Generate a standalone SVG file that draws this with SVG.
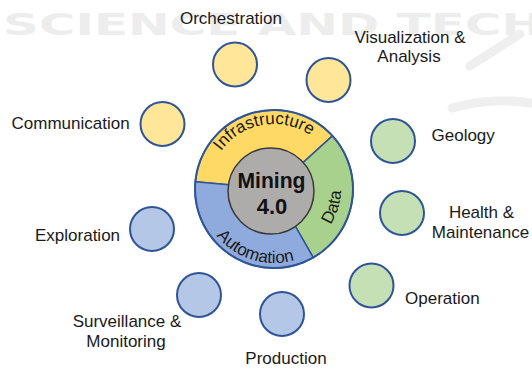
<svg xmlns="http://www.w3.org/2000/svg" xmlns:xlink="http://www.w3.org/1999/xlink" width="532" height="369" viewBox="0 0 532 369">
  <style>
    .label { font-family: "Liberation Sans", Arial, sans-serif; font-size: 17px; fill: #1a1a1a; }
    .mid { text-anchor: middle; }
    .ring-label { font-family: "Liberation Sans", Arial, sans-serif; font-size: 17px; fill: #1a1a1a; }
    .core-label { font-family: "Liberation Sans", Arial, sans-serif; font-size: 22px; font-weight: bold; fill: #111; text-anchor: middle; }
    .sat { stroke: #2F5597; stroke-width: 2; }
    .sat-y { fill: #FFE699; }
    .sat-g { fill: #C5E0B4; }
    .sat-b { fill: #B4C7E7; }
    .wedge { stroke: #2F5597; stroke-width: 1.5; stroke-linejoin: round; }
    .wm { font-family: "DejaVu Sans", sans-serif; font-weight: bold; font-size: 31px; fill: #ededed; }
    .wm-shape { fill: none; stroke: #efefef; stroke-width: 9; stroke-linecap: round; }
  </style>
  <defs>
    <path id="arc-infra" d="M217.71,156.5 A65,65 0 0 1 315.78,139.21"/>
    <path id="arc-auto" d="M205.63,217.32 A74,74 0 0 0 313.76,251.41"/>
    <path id="arc-data" d="M317.07,240.32 A67,67 0 0 0 338.41,170.53"/>
  </defs>

  <!-- faint background watermark -->
  <g id="watermark">
    <text class="wm" x="3" y="35" textLength="540" lengthAdjust="spacingAndGlyphs">SCIENCE AND TECH</text>
    <path class="wm-shape" d="M452,108 Q495,96 536,104"/>
    <path class="wm-shape" d="M470,66 L520,34"/>
  </g>

  <!-- central hub: three sectors around the core -->
  <g id="hub">
    <path class="wedge" fill="#FFD966" d="M274,189 L195.34,181.70 A79,79 0 0 1 332.43,135.83 Z"/>
    <path class="wedge" fill="#A9D18E" d="M274,189 L332.43,135.83 A79,79 0 0 1 313.26,257.56 Z"/>
    <path class="wedge" fill="#8FAADC" d="M274,189 L313.26,257.56 A79,79 0 0 1 195.34,181.70 Z"/>
    <circle cx="274" cy="189" r="79" fill="none" stroke="#2F5597" stroke-width="2"/>
    <text class="ring-label"><textPath xlink:href="#arc-infra" startOffset="50%" text-anchor="middle">Infrastructure</textPath></text>
    <text class="ring-label"><textPath xlink:href="#arc-auto" startOffset="50%" text-anchor="middle">Automation</textPath></text>
    <text class="ring-label"><textPath xlink:href="#arc-data" startOffset="50%" text-anchor="middle">Data</textPath></text>
  </g>

  <g id="core">
    <circle cx="271" cy="191" r="43" fill="#AEABAB" stroke="#3A3A3A" stroke-width="1.5"/>
    <text class="core-label" x="271.5" y="188" textLength="68" lengthAdjust="spacingAndGlyphs">Mining</text>
    <text class="core-label" x="272" y="214">4.0</text>
  </g>

  <!-- outer satellite topics -->
  <g id="orchestration">
    <circle class="sat sat-y" cx="235" cy="64.5" r="22"/>
    <text class="label mid" x="231" y="24">Orchestration</text>
  </g>
  <g id="visualization">
    <circle class="sat sat-y" cx="328.5" cy="80" r="22"/>
    <text class="label mid" x="410" y="43">Visualization &amp;</text>
    <text class="label mid" x="409" y="62">Analysis</text>
  </g>
  <g id="communication">
    <circle class="sat sat-y" cx="162.5" cy="124" r="22"/>
    <text class="label" x="11.5" y="129">Communication</text>
  </g>
  <g id="geology">
    <circle class="sat sat-g" cx="393" cy="141" r="22"/>
    <text class="label" x="431.5" y="141">Geology</text>
  </g>
  <g id="health">
    <circle class="sat sat-g" cx="402" cy="213" r="22"/>
    <text class="label mid" x="481.5" y="218">Health &amp;</text>
    <text class="label mid" x="480.5" y="238">Maintenance</text>
  </g>
  <g id="operation">
    <circle class="sat sat-g" cx="371.5" cy="285.5" r="22"/>
    <text class="label" x="405" y="304">Operation</text>
  </g>
  <g id="exploration">
    <circle class="sat sat-b" cx="152" cy="229" r="22"/>
    <text class="label" x="35" y="241">Exploration</text>
  </g>
  <g id="surveillance">
    <circle class="sat sat-b" cx="199" cy="295" r="22"/>
    <text class="label mid" x="127" y="327">Surveillance &amp;</text>
    <text class="label mid" x="126" y="347">Monitoring</text>
  </g>
  <g id="production">
    <circle class="sat sat-b" cx="282" cy="314" r="22"/>
    <text class="label mid" x="286" y="364">Production</text>
  </g>

  <g id="connectors"/>
</svg>
